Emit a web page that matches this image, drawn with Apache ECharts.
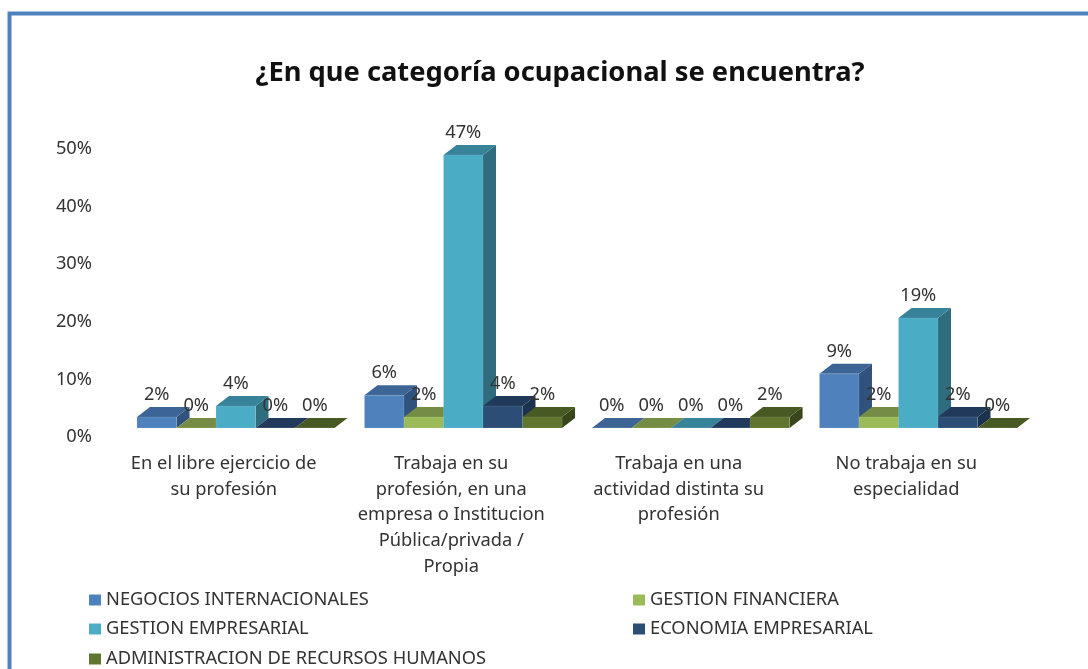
<!DOCTYPE html>
<html><head><meta charset="utf-8">
<style>html,body{margin:0;padding:0;background:#fff}#c{width:1088px;height:669px}</style>
<script src="https://cdn.jsdelivr.net/npm/echarts@6/dist/echarts.min.js"></script>
</head><body><div id="c"></div>
<script>
const categories = [
  'En el libre ejercicio de\nsu profesión',
  'Trabaja en su\nprofesión, en una\nempresa o Institucion\nPública/privada /\nPropia',
  'Trabaja en una\nactividad distinta su\nprofesión',
  'No trabaja en su\nespecialidad'
];
const seriesNames = ['NEGOCIOS INTERNACIONALES','GESTION FINANCIERA','GESTION EMPRESARIAL','ECONOMIA EMPRESARIAL','ADMINISTRACION DE RECURSOS HUMANOS'];
const negocios = [1.9, 5.7, 0, 9.4];
const financiera = [0, 1.9, 0, 1.9];
const empresarial = [3.8, 47.4, 0, 19.1];
const economia = [0, 3.8, 0, 1.9];
const administracion = [0, 1.9, 1.9, 0];
const allValues = [negocios, financiera, empresarial, economia, administracion];
const front = ['#4f81bd','#9bbb59','#4bacc6','#2c4d75','#5f7530'];
const topFace = ['#3c6494','#748c43','#37839a','#21395a','#485a24'];
const side = ['#30527c','#5f7337','#2f6c7e','#1c314d','#38461c'];
const FONT = '"Noto Sans", sans-serif';
const FS = 18.3;
const DX = 13, DY = -10, BAR_RATIO = 0.1737;

function makeRender(si){
  return function(params, api){
    const v = api.value(1);
    const p = api.coord([api.value(0), v]);
    const base = api.coord([api.value(0), 0]);
    const w = api.size([1,0])[0] * BAR_RATIO;
    const x0 = p[0] + (si - 2.5) * w, x1 = x0 + w, yT = p[1], yB = base[1];
    const line = {stroke:'rgba(255,255,255,0.18)', lineWidth:0.6};
    return {type:'group', children:[
      {type:'polygon', shape:{points:[[x1,yT],[x1+DX,yT+DY],[x1+DX,yB+DY],[x1,yB]]}, style:{fill:side[si]}},
      {type:'polygon', shape:{points:[[x0,yT],[x0+DX,yT+DY],[x1+DX,yT+DY],[x1,yT]]}, style:{fill:topFace[si]}},
      {type:'polygon', shape:{points:[[x0,yT],[x1,yT],[x1,yB],[x0,yB]]}, style:Object.assign({fill:front[si]}, line)},
      {type:'text', z2:100, style:{text:Math.round(v)+'%', x:(x0+x1)/2, y:yT+DY-12, textAlign:'center', textVerticalAlign:'middle', fill:'#333', font:FS+'px '+FONT}}
    ]};
  };
}
const legendSpots = [[89,591],[633,591],[89,620],[633,620],[89,650]];
const chart = echarts.init(document.getElementById('c'), null, {renderer:'canvas'});
chart.setOption({
  animation:false,
  backgroundColor:'#fff',
  title:{text:'¿En que categoría ocupacional se encuentra?', left:555, top:55, textAlign:'center',
    textStyle:{fontFamily:FONT,fontWeight:'bold',fontSize:27.3,color:'#111'}},
  legend:seriesNames.map((n,i)=>({left:legendSpots[i][0], top:legendSpots[i][1], padding:0, icon:'rect', itemWidth:12, itemHeight:11, itemGap:5,
     itemStyle:{borderWidth:0}, data:[n], textStyle:{fontFamily:FONT,fontSize:FS,color:'#333',padding:[0,0,0,0]}})),
  grid:{left:122, top:140, width:910, height:288, containLabel:false},
  xAxis:{type:'category', data:categories, axisLine:{show:false}, axisTick:{show:false},
    axisLabel:{interval:0, fontFamily:FONT, fontSize:FS, color:'#333', lineHeight:25.7, margin:23, padding:[0,24,0,0], align:'center'}},
  yAxis:{type:'value', min:0, max:50, interval:10, axisLine:{show:false}, axisTick:{show:false}, splitLine:{show:false},
    axisLabel:{formatter:'{value}%', fontFamily:FONT, fontSize:FS, color:'#333', margin:30, verticalAlign:'top', lineHeight:18}},
  graphic:[{type:'rect', silent:true, shape:{x:9.5,y:13.5,width:1300,height:900}, style:{fill:'none',stroke:'#4f81bd',lineWidth:4}}],
  series: allValues.map((vals,si)=>({
    type:'custom', name:seriesNames[si], coordinateSystem:'cartesian2d',
    itemStyle:{color:front[si]}, renderItem:makeRender(si), encode:{x:0,y:1},
    data: vals.map((v,i)=>[i,v])
  }))
});
</script></body></html>
